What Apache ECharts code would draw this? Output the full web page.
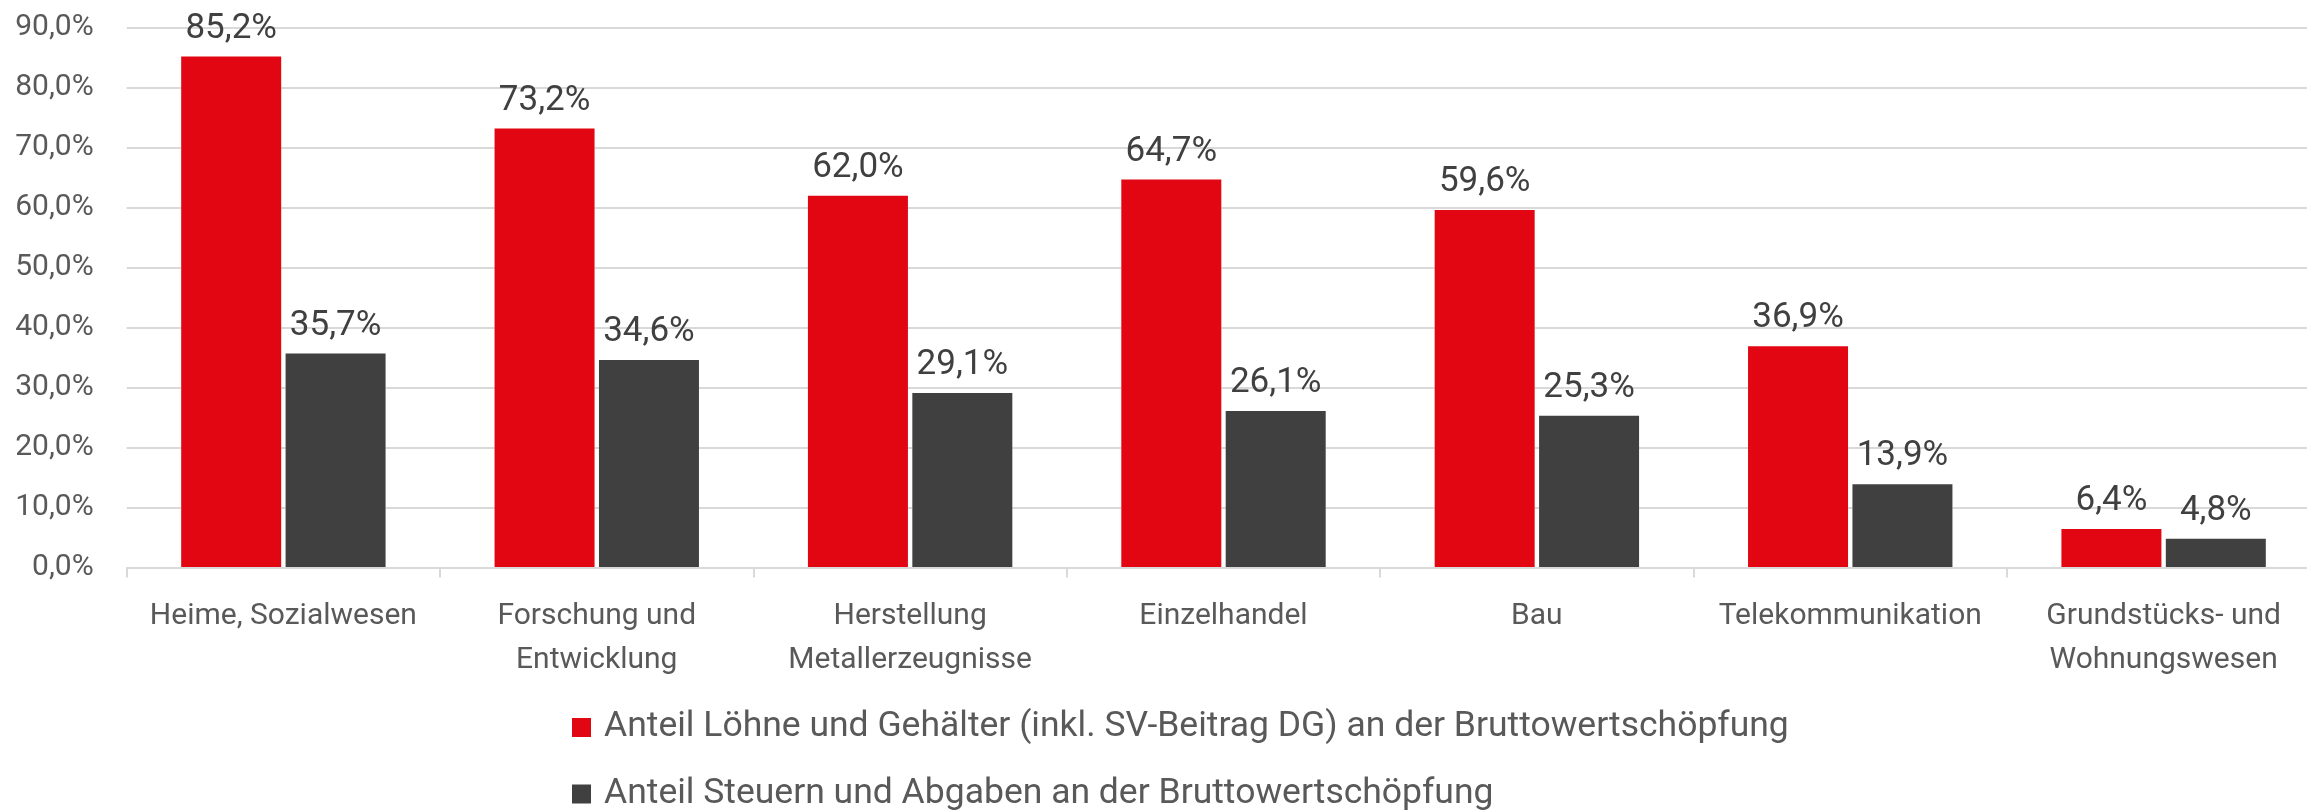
<!DOCTYPE html>
<html>
<head>
<meta charset="utf-8">
<script src="https://cdn.jsdelivr.net/npm/echarts@6/dist/echarts.min.js"></script>
<style>
html,body{margin:0;padding:0;background:#fff;}
#chart{width:2307px;height:812px;}
</style>
</head>
<body>
<div id="chart"></div>
<script>
const categories = [
  "Heime, Sozialwesen",
  "Forschung und\nEntwicklung",
  "Herstellung\nMetallerzeugnisse",
  "Einzelhandel",
  "Bau",
  "Telekommunikation",
  "Grundstücks- und\nWohnungswesen"
];
const seriesNames = [
  "Anteil Löhne und Gehälter (inkl. SV-Beitrag DG) an der Bruttowertschöpfung",
  "Anteil Steuern und Abgaben an der Bruttowertschöpfung"
];
const loehne = [85.2, 73.2, 62.0, 64.7, 59.6, 36.9, 6.4];
const steuern = [35.7, 34.6, 29.1, 26.1, 25.3, 13.9, 4.8];
const yTicks = [0, 10, 20, 30, 40, 50, 60, 70, 80, 90];

const FONT = 'Roboto';
const fmt = v => v.toFixed(1).replace('.', ',') + '%';

const chart = echarts.init(document.getElementById('chart'), null, {renderer: 'canvas'});
const labelCfg = {
  show: true,
  position: 'top',
  distance: 10,
  fontFamily: FONT,
  fontSize: 35,
  color: '#404040',
  formatter: p => fmt(p.value)
};
const legendBase = {
  orient: 'horizontal',
  left: 572,
  padding: 0,
  itemWidth: 19,
  itemHeight: 19,
  icon: 'rect',
  textStyle: {
    fontFamily: FONT,
    fontSize: 35.5,
    lineHeight: 40,
    color: '#595959',
    padding: [0, 0, 0, 8]
  }
};
const haloCfg = {
  type: 'bar',
  xAxisIndex: 1,
  barWidth: 100,
  barGap: '4.4%',
  z: 1,
  silent: true,
  itemStyle: {color: '#ffffff', borderColor: '#ffffff', borderWidth: 8},
  label: {show: false}
};
chart.setOption({
  animation: false,
  backgroundColor: '#ffffff',
  grid: {
    left: 126.7,
    right: -13.3,
    top: 27.7,
    bottom: 244.5,
    containLabel: false,
    outerBoundsMode: 'none'
  },
  legend: [
    Object.assign({}, legendBase, {top: 707.5, data: [seriesNames[0]]}),
    Object.assign({}, legendBase, {top: 774, data: [seriesNames[1]]})
  ],
  xAxis: [
    {
      type: 'category',
      data: categories,
      z: 5,
      axisLine: {show: true, lineStyle: {color: '#d9d9d9', width: 2}},
      axisTick: {show: true, length: 10, lineStyle: {color: '#d9d9d9', width: 2}},
      axisLabel: {
        interval: 0,
        margin: 27,
        fontFamily: FONT,
        fontSize: 30,
        lineHeight: 44,
        color: '#595959'
      }
    },
    {
      type: 'category',
      data: categories,
      show: false
    }
  ],
  yAxis: {
    type: 'value',
    min: yTicks[0],
    max: yTicks[yTicks.length - 1],
    interval: yTicks[1] - yTicks[0],
    axisLine: {show: false},
    axisTick: {show: false},
    splitLine: {show: true, lineStyle: {color: '#d9d9d9', width: 2}},
    axisLabel: {
      margin: 33,
      fontFamily: FONT,
      fontSize: 30,
      color: '#595959',
      formatter: v => fmt(v)
    }
  },
  series: [
    Object.assign({}, haloCfg, {name: 'halo1', data: loehne}),
    Object.assign({}, haloCfg, {name: 'halo2', data: steuern}),
    {
      name: seriesNames[0],
      type: 'bar',
      xAxisIndex: 0,
      data: loehne,
      barWidth: 100,
      barGap: '4.4%',
      z: 2,
      itemStyle: {color: '#e20613'},
      label: labelCfg
    },
    {
      name: seriesNames[1],
      type: 'bar',
      xAxisIndex: 0,
      data: steuern,
      barWidth: 100,
      barGap: '4.4%',
      z: 2,
      itemStyle: {color: '#404040'},
      label: labelCfg
    }
  ]
});
</script>
</body>
</html>
